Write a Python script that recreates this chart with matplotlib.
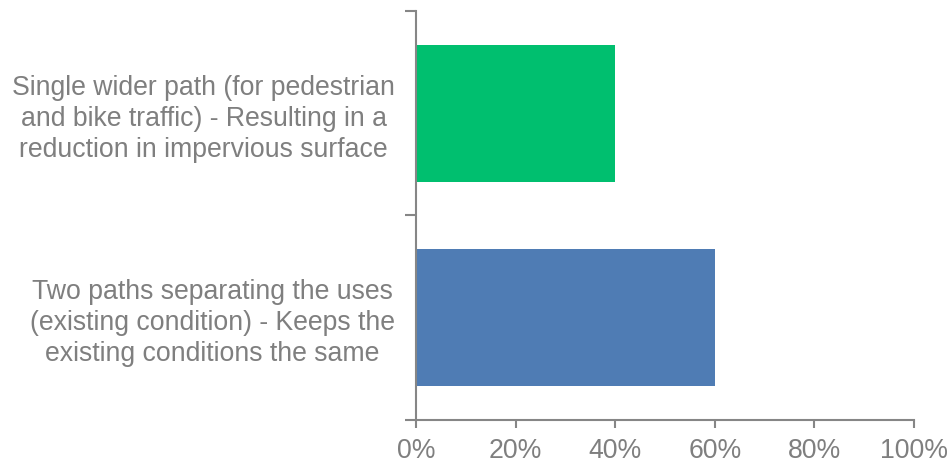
import matplotlib
matplotlib.use("Agg")
import matplotlib.pyplot as plt
from matplotlib.ticker import FixedLocator, PercentFormatter

# categories bottom to top
categories = [
    "Two paths separating the uses\n(existing condition) - Keeps the\nexisting conditions the same",
    "Single wider path (for pedestrian\nand bike traffic) - Resulting in a\nreduction in impervious surface",
]
shares = [60, 40]
bar_colors = ["#4F7CB4", "#00BF6F"]
x_ticks = [0, 20, 40, 60, 80, 100]

plt.rcParams["font.family"] = ["Liberation Sans", "DejaVu Sans"]
gray = "#7F7F7F"
axis_gray = "#868686"

fig = plt.figure(figsize=(9.48, 4.62), dpi=100)
ax = fig.add_axes([0.4388, 0.0909, 0.5253, 0.8853])

ax.barh(range(len(categories)), shares, height=0.67, color=bar_colors)

ax.set_xlim(0, 100)
ax.set_ylim(-0.5, len(categories) - 0.5)
ax.xaxis.set_major_locator(FixedLocator(x_ticks))
ax.xaxis.set_major_formatter(PercentFormatter(decimals=0))

ax.set_yticks(range(len(categories)))
ax.set_yticklabels(categories)
for lbl in ax.get_yticklabels():
    lbl.set_multialignment("center")
    lbl.set_linespacing(1.25)
ax.yaxis.set_minor_locator(FixedLocator([-0.5, 0.5, 1.5]))

for side in ("top", "right"):
    ax.spines[side].set_visible(False)
for side in ("left", "bottom"):
    ax.spines[side].set_color(axis_gray)
    ax.spines[side].set_linewidth(1.5)

ax.tick_params(axis="x", which="major", direction="out", length=6, width=1.5,
               color=axis_gray, labelcolor=gray, labelsize=19.2, pad=7)
ax.tick_params(axis="y", which="major", length=0, labelcolor=gray,
               labelsize=19.2, pad=15)
ax.tick_params(axis="y", which="minor", direction="out", length=8, width=1.5,
               color=axis_gray)

fig.savefig("out.png", dpi=100)
